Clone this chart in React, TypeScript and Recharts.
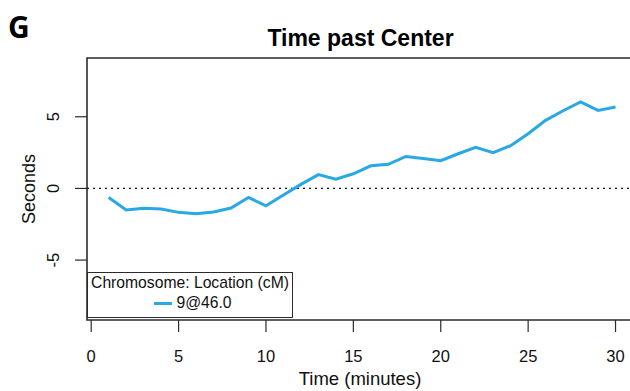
import { LineChart, Line, XAxis, YAxis, ReferenceLine, ReferenceArea, Legend } from "recharts";

const minutes = [1, 2, 3, 4, 5, 6, 7, 8, 9, 10, 11, 12, 13, 14, 15, 16, 17, 18, 19, 20, 21, 22, 23, 24, 25, 26, 27, 28, 29, 30];
const seconds = [
  -0.63, -1.51, -1.39, -1.44, -1.67, -1.77, -1.65, -1.37, -0.63, -1.21,
  -0.46, 0.28, 0.96, 0.65, 1.02, 1.58, 1.68, 2.23, 2.09, 1.93,
  2.42, 2.86, 2.49, 2.98, 3.82, 4.75, 5.42, 6.03, 5.44, 5.68,
];
const xTicks = [0, 5, 10, 15, 20, 25, 30];
const yTicks = [-5, 0, 5];
const seriesName = "9@46.0";
const legendTitle = "Chromosome: Location (cM)";

const X_DOMAIN: [number, number] = [-0.24, 31];
const Y_DOMAIN: [number, number] = [-9.18, 9.1];

const FONT = "'Liberation Sans', Arial, sans-serif";
const INK = "#2b2b2b";
const BLUE = "#28A8E5";

const data = minutes.map((m, i) => ({ x: m, y: seconds[i] }));

const XTick = ({ x, y, payload }: any) => (
  <text x={x} y={y + 28} textAnchor="middle" fontSize={16.5} fontFamily={FONT} fill="#111">
    {payload.value}
  </text>
);

const YTick = ({ x, y, payload }: any) => (
  <text
    x={x - 20}
    y={y}
    textAnchor="middle"
    dominantBaseline="central"
    fontSize={16.5}
    fontFamily={FONT}
    fill="#111"
    transform={`rotate(-90, ${x - 20}, ${y})`}
  >
    {payload.value}
  </text>
);

const LegendBox = ({ payload }: any) => {
  const item = payload && payload[0];
  return (
    <div
      style={{
        width: 206,
        height: 46,
        boxSizing: "border-box",
        border: `1.5px solid ${INK}`,
        background: "#fff",
        fontFamily: FONT,
        fontSize: 15.7,
        color: "#111",
        lineHeight: "20px",
        textAlign: "center",
      }}
    >
      <div>{legendTitle}</div>
      <div style={{ display: "flex", justifyContent: "center", alignItems: "center", paddingLeft: 6 }}>
        <span style={{ display: "inline-block", width: 18, height: 3, background: item ? item.color : BLUE, marginRight: 4 }} />
        <span>{item ? item.value : seriesName}</span>
      </div>
    </div>
  );
};

export default function App() {
  return (
    <div style={{ position: "absolute", left: 0, top: 0, width: 630, height: 391, overflow: "hidden", background: "#fff" }}>
      <LineChart width={640} height={391} data={data} margin={{ top: 58, right: 7, bottom: 0, left: 0 }}>
        <XAxis
          type="number"
          dataKey="x"
          domain={X_DOMAIN}
          ticks={xTicks}
          allowDataOverflow
          axisLine={false}
          tickLine={{ stroke: INK, strokeWidth: 1.2 }}
          tickSize={12}
          height={71}
          tick={<XTick />}
          label={{ value: "Time (minutes)", position: "insideBottom", offset: 6.5, fontSize: 18.5, fontFamily: FONT, fill: "#111" }}
        />
        <YAxis
          type="number"
          domain={Y_DOMAIN}
          ticks={yTicks}
          allowDataOverflow
          axisLine={false}
          tickLine={{ stroke: INK, strokeWidth: 1.2 }}
          tickSize={12}
          width={87}
          tick={<YTick />}
          label={{ value: "Seconds", angle: -90, position: "center", dx: -14.5, fontSize: 18, fontFamily: FONT, fill: "#111" }}
        />
        <ReferenceArea x1={X_DOMAIN[0]} x2={X_DOMAIN[1]} y1={Y_DOMAIN[0]} y2={Y_DOMAIN[1]} fill="none" stroke={INK} strokeWidth={1.6} />
        <ReferenceLine y={0} stroke="#111" strokeWidth={1.3} strokeDasharray="2 4" />
        <Line
          type="linear"
          dataKey="y"
          name={seriesName}
          stroke={BLUE}
          strokeWidth={3}
          dot={false}
          isAnimationActive={false}
        />
        <Legend
          layout="horizontal"
          verticalAlign="middle"
          align="center"
          content={<LegendBox />}
          wrapperStyle={{ left: 87, top: 272, width: 206, height: 46 }}
        />
      </LineChart>
      <svg width={630} height={391} style={{ position: "absolute", left: 0, top: 0, pointerEvents: "none" }}>
        <text x={8} y={38} fontSize={30} fontWeight="bold" fontFamily="'Noto Sans', sans-serif" fill="#000">
          G
        </text>
        <text x={360.5} y={46} textAnchor="middle" fontSize={23} fontWeight="bold" fontFamily={FONT} fill="#000">
          Time past Center
        </text>
      </svg>
    </div>
  );
}
